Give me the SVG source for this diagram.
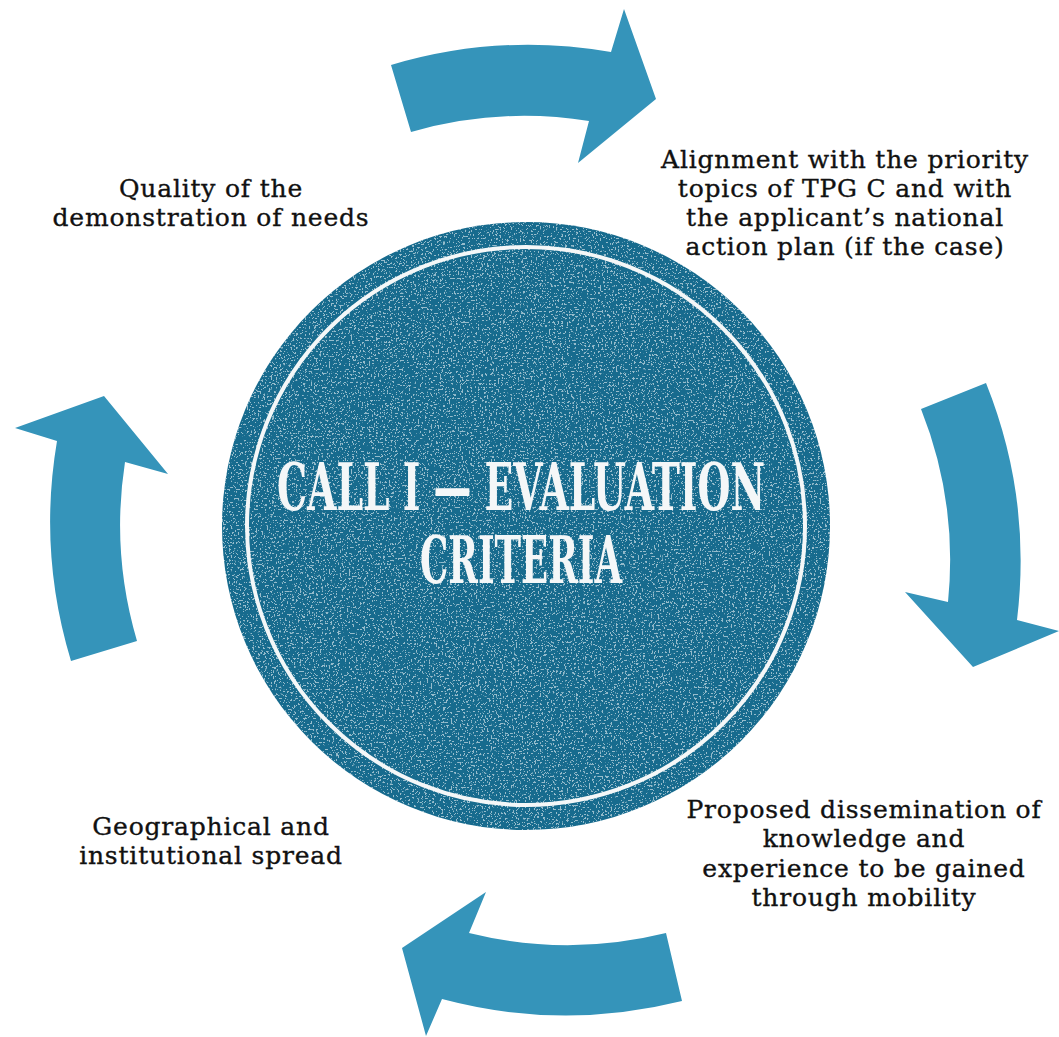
<svg xmlns="http://www.w3.org/2000/svg" width="1059" height="1037" viewBox="0 0 1059 1037">
<defs>
<style>
.arrow{fill:#3594ba}
.lbl{font-family:"DejaVu Serif","Liberation Serif",serif;font-size:25px;letter-spacing:0.8px;fill:#111;stroke:#111;stroke-width:0.35px;text-anchor:middle}
.title{font-family:"DejaVu Serif Condensed","DejaVu Serif","Liberation Serif",serif;font-stretch:condensed;font-weight:bold;font-size:66px;fill:#f4f7f8;text-anchor:middle}
</style>
<filter id="speck" x="0" y="0" width="100%" height="100%">
<feTurbulence type="fractalNoise" baseFrequency="0.55" numOctaves="3" seed="7" result="n"/>
<feColorMatrix in="n" type="matrix" values="0 0 0 0 1  0 0 0 0 1  0 0 0 0 1  0 0 0 -22 8.6" result="w"/>
<feComposite in="w" in2="SourceGraphic" operator="in"/>
</filter>
<clipPath id="cc"><circle cx="526" cy="526" r="304"/></clipPath>
</defs>
<rect width="1059" height="1037" fill="#fff"/>
<g id="center">
<circle cx="526" cy="526" r="304" fill="#176b8e"/>
<rect x="222" y="222" width="608" height="608" fill="#fff" opacity="0.55" filter="url(#speck)" clip-path="url(#cc)"/>
<circle cx="526" cy="526" r="279" fill="none" stroke="#f4f7f8" stroke-width="4"/>
<text class="title" x="521" y="510" textLength="488" lengthAdjust="spacingAndGlyphs">CALL I — EVALUATION</text>
<text class="title" x="521" y="583" textLength="202" lengthAdjust="spacingAndGlyphs">CRITERIA</text>
</g>
<g id="connectors">
<path class="arrow" d="M 391 65 A 481 481 0 0 1 611 52 L 624 9 L 656 99 L 578 163 L 589 121 A 410 410 0 0 0 411 132 Z"/>
<path class="arrow" d="M 921 409 L 986 383 A 481 481 0 0 1 1017 620 L 1059 631 L 973 667 L 905 592 L 948 602 A 410 410 0 0 0 921 409 Z"/>
<path class="arrow" d="M 666 933 L 682 1001 A 481 481 0 0 1 442 999 L 426 1036 L 402 948 L 486 892 L 469 933 A 410 410 0 0 0 666 933 Z"/>
<path class="arrow" d="M 71 661 L 137 641 A 410 410 0 0 1 125 462 L 168 474 L 104 396 L 15 428 L 57 441 A 481 481 0 0 0 71 661 Z"/>
</g>
<g id="node-quality">
<text class="lbl" x="211" y="197">Quality of the</text>
<text class="lbl" x="211" y="226">demonstration of needs</text>
</g>
<g id="node-alignment">
<text class="lbl" x="845" y="168">Alignment with the priority</text>
<text class="lbl" x="845" y="197">topics of TPG C and with</text>
<text class="lbl" x="845" y="226">the applicant’s national</text>
<text class="lbl" x="845" y="255">action plan (if the case)</text>
</g>
<g id="node-dissemination">
<text class="lbl" x="864" y="818">Proposed dissemination of</text>
<text class="lbl" x="864" y="847">knowledge and</text>
<text class="lbl" x="864" y="877">experience to be gained</text>
<text class="lbl" x="864" y="906">through mobility</text>
</g>
<g id="node-geo">
<text class="lbl" x="211" y="835">Geographical and</text>
<text class="lbl" x="211" y="864">institutional spread</text>
</g>
</svg>
